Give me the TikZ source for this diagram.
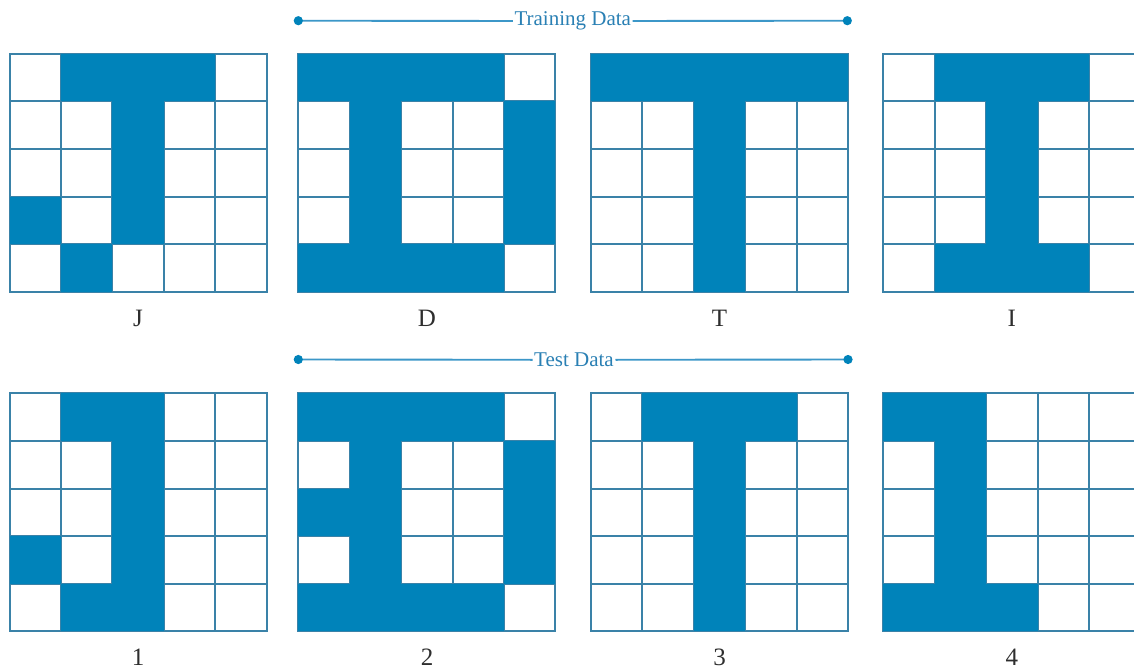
\documentclass[tikz,border=0pt]{standalone}
\usepackage{fontspec}
\setmainfont{Liberation Serif}
\definecolor{cellblue}{HTML}{0083BA}
\definecolor{gridline}{HTML}{3A82A8}
\definecolor{headblue}{HTML}{2A80B4}
\definecolor{headline}{HTML}{3C97C8}
\definecolor{labelgray}{HTML}{2E2E2E}
\newcommand{\cw}{51.4}
\newcommand{\ch}{47.6}
% #1 left, #2 top, #3 list of blue cells col/row
\newcommand{\pixgrid}[3]{%
  \foreach \cc in {0,...,4}{\foreach \rr in {0,...,4}{%
    \draw[whitecell] ({#1+\cc*\cw},{#2+\rr*\ch}) rectangle ++(\cw,\ch);}}
  \foreach \cc/\rr in {#3}{\fill[bluecell] ({#1+\cc*\cw},{#2+\rr*\ch}) rectangle ++(\cw,\ch);}
}
\tikzset{
  bluecell/.style={fill=cellblue},
  whitecell/.style={draw=gridline, line width=2pt, fill=white},
  header/.style={text=headblue, inner xsep=1.5pt, inner ysep=0pt, font=\fontsize{21}{25}\selectfont},
  headrule/.style={draw=headline, line width=1.9pt},
  headdot/.style={fill=cellblue},
  letterlabel/.style={text=labelgray, anchor=base, inner sep=0pt, font=\fontsize{25}{30}\selectfont}
}
\begin{document}
\begin{tikzpicture}[x=1pt,y=-1pt]
\useasboundingbox (0,0) rectangle (1134,671);
\clip (0,0) rectangle (1134,671);
\fill[white] (0,0) rectangle (1134,671);
% headers
\coordinate (trL) at (298.3,20.7);
\coordinate (trR) at (847.3,20.7);
\node[header] (tr) at (572.8,21) {Training Data};
\draw[headrule] (trL) -- (tr.west);
\draw[headrule] (tr.east) -- (trR);
\fill[headdot] (trL) circle[radius=4.6pt];
\fill[headdot] (trR) circle[radius=4.6pt];
\coordinate (teL) at (298.3,359.5);
\coordinate (teR) at (848,359.5);
\node[header] (te) at (574,359.8) {Test Data};
\draw[headrule] (teL) -- (te.west);
\draw[headrule] (te.east) -- (teR);
\fill[headdot] (teL) circle[radius=4.6pt];
\fill[headdot] (teR) circle[radius=4.6pt];
% training grids
\pixgrid{9.5}{53.7}{1/0,2/0,3/0,2/1,2/2,0/3,2/3,1/4}
\pixgrid{298.3}{53.7}{0/0,1/0,2/0,3/0,1/1,4/1,1/2,4/2,1/3,4/3,0/4,1/4,2/4,3/4}
\pixgrid{591}{53.7}{0/0,1/0,2/0,3/0,4/0,2/1,2/2,2/3,2/4}
\pixgrid{883.3}{53.7}{1/0,2/0,3/0,2/1,2/2,2/3,1/4,2/4,3/4}
% test grids
\pixgrid{9.5}{393.3}{1/0,2/0,2/1,2/2,0/3,2/3,1/4,2/4}
\pixgrid{298.3}{393.3}{0/0,1/0,2/0,3/0,1/1,4/1,0/2,1/2,4/2,1/3,4/3,0/4,1/4,2/4,3/4}
\pixgrid{591}{393.3}{1/0,2/0,3/0,2/1,2/2,2/3,2/4}
\pixgrid{883.3}{393.3}{0/0,1/0,1/1,1/2,1/3,0/4,1/4,2/4}
% labels
\node[letterlabel] (lJ) at (138,326) {J};
\node[letterlabel] (lD) at (427,326) {D};
\node[letterlabel] (lT) at (719.5,326) {T};
\node[letterlabel] (lI) at (1011.8,326) {I};
\node[letterlabel] (l1) at (138,665.5) {1};
\node[letterlabel] (l2) at (427,665.5) {2};
\node[letterlabel] (l3) at (719.5,665.5) {3};
\node[letterlabel] (l4) at (1011.8,665.5) {4};
\end{tikzpicture}
\end{document}
